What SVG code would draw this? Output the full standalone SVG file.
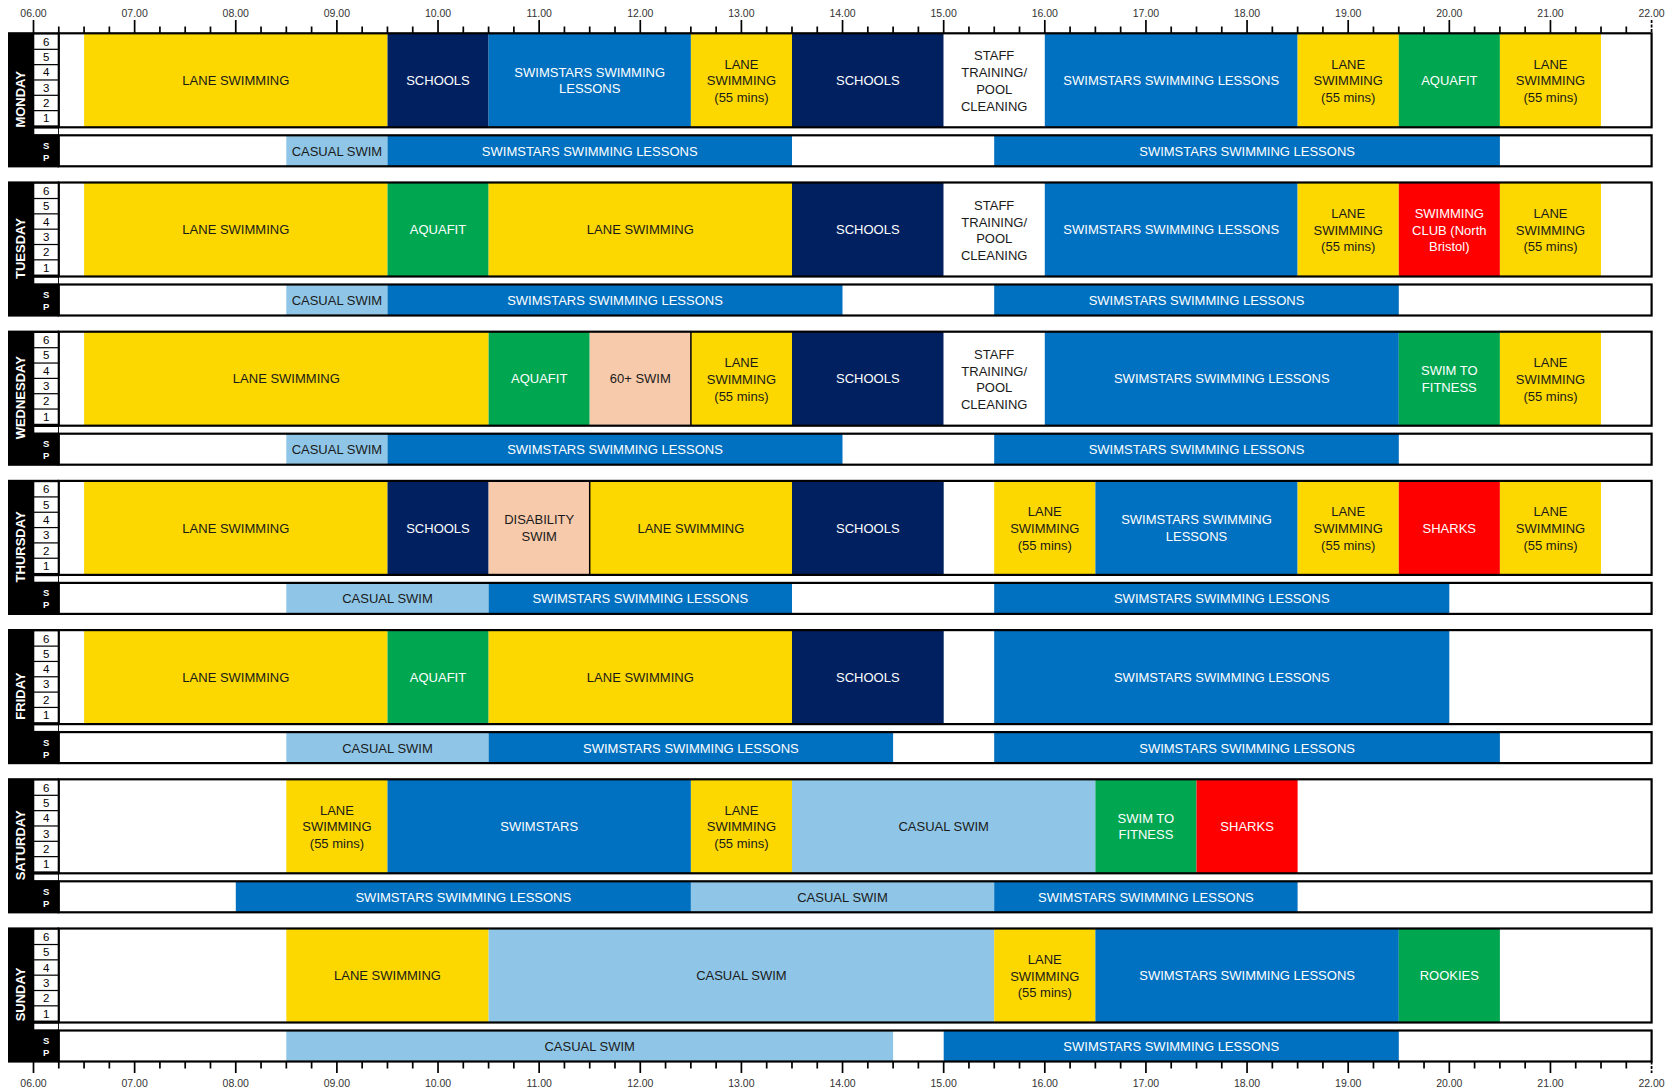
<svg xmlns="http://www.w3.org/2000/svg" width="1673" height="1089" viewBox="0 0 1673 1089">
<defs>
<style>
.y{fill:#FCD800}.n{fill:#012060}.b{fill:#0070C0}.lb{fill:#8FC6E7}.g{fill:#00A650}.r{fill:#FE0000}.p{fill:#F7CAAC}.w{fill:#fff}
.box{fill:none;stroke:#000;stroke-width:2.2}
.bg{fill:#fff}
.col{fill:#000}
.cell{fill:#fff}
.sep{stroke:#000;stroke-width:1.5}
text{font-family:"Liberation Sans",Arial,sans-serif}
.t{font-size:13px;text-anchor:middle}
.dk{fill:#1a1a1a}.lt{fill:#fff}
.num{font-size:11.5px;text-anchor:middle;fill:#000}
.sp{font-size:9.5px;font-weight:bold;text-anchor:middle;fill:#fff}
.day{font-size:13px;font-weight:bold;text-anchor:middle;fill:#fff}
.ax{font-size:10.5px;text-anchor:middle;fill:#333}
.tick{stroke:#000;stroke-width:1.7;fill:none}
</style>
<g id="laneCol">
<rect class="col" x="8" y="-1.1" width="51" height="135.2"/>
<rect class="cell" x="34.3" y="1.3" width="23.8" height="14.1"/>
<rect class="cell" x="34.3" y="16.63" width="23.8" height="14.1"/>
<rect class="cell" x="34.3" y="31.96" width="23.8" height="14.1"/>
<rect class="cell" x="34.3" y="47.29" width="23.8" height="14.1"/>
<rect class="cell" x="34.3" y="62.62" width="23.8" height="14.1"/>
<rect class="cell" x="34.3" y="77.95" width="23.8" height="14.1"/>
<text class="num" x="46.2" y="12.5">6</text>
<text class="num" x="46.2" y="27.8">5</text>
<text class="num" x="46.2" y="43.1">4</text>
<text class="num" x="46.2" y="58.4">3</text>
<text class="num" x="46.2" y="73.8">2</text>
<text class="num" x="46.2" y="89.1">1</text>
<rect class="cell" x="34.3" y="95.3" width="23.8" height="5.5"/>
<text class="sp" x="46.2" y="115.5">S</text>
<text class="sp" x="46.2" y="127.5">P</text>
<rect class="bg" x="58.8" y="0" width="1592.8" height="94"/>
<rect class="bg" x="58.8" y="102" width="1592.8" height="31"/>
</g>
<rect id="mainBox" class="box" x="58.8" y="0" width="1592.8" height="94"/>
<rect id="spBox" class="box" x="58.8" y="102" width="1592.8" height="31"/>
</defs>

<g id="axis-top">
<path class="tick" d="M33.5 20V33M134.63 20V33M235.76 20V33M336.89 20V33M438.02 20V33M539.15 20V33M640.28 20V33M741.41 20V33M842.54 20V33M943.67 20V33M1044.8 20V33M1145.93 20V33M1247.06 20V33M1348.19 20V33M1449.32 20V33M1550.45 20V33"/>
<path class="tick" d="M1651.58 20V33" stroke-dasharray="3 1.5"/>
<path class="tick" d="M58.78 26.5V33M84.07 26.5V33M109.35 26.5V33M159.91 26.5V33M185.2 26.5V33M210.48 26.5V33M261.04 26.5V33M286.33 26.5V33M311.61 26.5V33M362.17 26.5V33M387.46 26.5V33M412.74 26.5V33M463.3 26.5V33M488.59 26.5V33M513.87 26.5V33M564.43 26.5V33M589.72 26.5V33M615 26.5V33M665.56 26.5V33M690.85 26.5V33M716.13 26.5V33M766.69 26.5V33M791.98 26.5V33M817.26 26.5V33M867.82 26.5V33M893.11 26.5V33M918.39 26.5V33M968.95 26.5V33M994.24 26.5V33M1019.52 26.5V33M1070.08 26.5V33M1095.37 26.5V33M1120.65 26.5V33M1171.21 26.5V33M1196.5 26.5V33M1221.78 26.5V33M1272.34 26.5V33M1297.63 26.5V33M1322.91 26.5V33M1373.47 26.5V33M1398.76 26.5V33M1424.04 26.5V33M1474.6 26.5V33M1499.89 26.5V33M1525.17 26.5V33M1575.73 26.5V33M1601.02 26.5V33M1626.3 26.5V33"/>
<text class="ax" x="33.5" y="17">06.00</text><text class="ax" x="134.63" y="17">07.00</text><text class="ax" x="235.76" y="17">08.00</text><text class="ax" x="336.89" y="17">09.00</text><text class="ax" x="438.02" y="17">10.00</text><text class="ax" x="539.15" y="17">11.00</text><text class="ax" x="640.28" y="17">12.00</text><text class="ax" x="741.41" y="17">13.00</text><text class="ax" x="842.54" y="17">14.00</text><text class="ax" x="943.67" y="17">15.00</text><text class="ax" x="1044.8" y="17">16.00</text><text class="ax" x="1145.93" y="17">17.00</text><text class="ax" x="1247.06" y="17">18.00</text><text class="ax" x="1348.19" y="17">19.00</text><text class="ax" x="1449.32" y="17">20.00</text><text class="ax" x="1550.45" y="17">21.00</text><text class="ax" x="1651.58" y="17">22.00</text>
</g>

<g id="axis-bottom">
<path class="tick" d="M33.5 1061.5V1073M134.63 1061.5V1073M235.76 1061.5V1073M336.89 1061.5V1073M438.02 1061.5V1073M539.15 1061.5V1073M640.28 1061.5V1073M741.41 1061.5V1073M842.54 1061.5V1073M943.67 1061.5V1073M1044.8 1061.5V1073M1145.93 1061.5V1073M1247.06 1061.5V1073M1348.19 1061.5V1073M1449.32 1061.5V1073M1550.45 1061.5V1073"/>
<path class="tick" d="M1651.58 1061.5V1073" stroke-dasharray="3 1.5"/>
<path class="tick" d="M58.78 1061.5V1068.5M84.07 1061.5V1068.5M109.35 1061.5V1068.5M159.91 1061.5V1068.5M185.2 1061.5V1068.5M210.48 1061.5V1068.5M261.04 1061.5V1068.5M286.33 1061.5V1068.5M311.61 1061.5V1068.5M362.17 1061.5V1068.5M387.46 1061.5V1068.5M412.74 1061.5V1068.5M463.3 1061.5V1068.5M488.59 1061.5V1068.5M513.87 1061.5V1068.5M564.43 1061.5V1068.5M589.72 1061.5V1068.5M615 1061.5V1068.5M665.56 1061.5V1068.5M690.85 1061.5V1068.5M716.13 1061.5V1068.5M766.69 1061.5V1068.5M791.98 1061.5V1068.5M817.26 1061.5V1068.5M867.82 1061.5V1068.5M893.11 1061.5V1068.5M918.39 1061.5V1068.5M968.95 1061.5V1068.5M994.24 1061.5V1068.5M1019.52 1061.5V1068.5M1070.08 1061.5V1068.5M1095.37 1061.5V1068.5M1120.65 1061.5V1068.5M1171.21 1061.5V1068.5M1196.5 1061.5V1068.5M1221.78 1061.5V1068.5M1272.34 1061.5V1068.5M1297.63 1061.5V1068.5M1322.91 1061.5V1068.5M1373.47 1061.5V1068.5M1398.76 1061.5V1068.5M1424.04 1061.5V1068.5M1474.6 1061.5V1068.5M1499.89 1061.5V1068.5M1525.17 1061.5V1068.5M1575.73 1061.5V1068.5M1601.02 1061.5V1068.5M1626.3 1061.5V1068.5"/>
<text class="ax" x="33.5" y="1087">06.00</text><text class="ax" x="134.63" y="1087">07.00</text><text class="ax" x="235.76" y="1087">08.00</text><text class="ax" x="336.89" y="1087">09.00</text><text class="ax" x="438.02" y="1087">10.00</text><text class="ax" x="539.15" y="1087">11.00</text><text class="ax" x="640.28" y="1087">12.00</text><text class="ax" x="741.41" y="1087">13.00</text><text class="ax" x="842.54" y="1087">14.00</text><text class="ax" x="943.67" y="1087">15.00</text><text class="ax" x="1044.8" y="1087">16.00</text><text class="ax" x="1145.93" y="1087">17.00</text><text class="ax" x="1247.06" y="1087">18.00</text><text class="ax" x="1348.19" y="1087">19.00</text><text class="ax" x="1449.32" y="1087">20.00</text><text class="ax" x="1550.45" y="1087">21.00</text><text class="ax" x="1651.58" y="1087">22.00</text>
</g>

<!-- MONDAY -->
<g id="day-monday" transform="translate(0,33.3)">
<use href="#laneCol"/>
<text class="day" transform="translate(25.2,66) rotate(-90)">MONDAY</text>
<g id="mon-1"><rect class="y" x="84.1" y="0" width="303.4" height="94"/><text class="t dk" x="235.8" y="51.8">LANE SWIMMING</text></g>
<g id="mon-2"><rect class="n" x="387.5" y="0" width="101.1" height="94"/><text class="t lt" x="438" y="51.8">SCHOOLS</text></g>
<g id="mon-3"><rect class="b" x="488.6" y="0" width="202.3" height="94"/><text class="t lt" x="589.7" y="43.5">SWIMSTARS SWIMMING</text><text class="t lt" x="589.7" y="60.2">LESSONS</text></g>
<g id="mon-4"><rect class="y" x="690.9" y="0" width="101.1" height="94"/><text class="t dk" x="741.4" y="35.5">LANE</text><text class="t dk" x="741.4" y="52.2">SWIMMING</text><text class="t dk" x="741.4" y="68.9">(55 mins)</text></g>
<g id="mon-5"><rect class="n" x="792" y="0" width="151.7" height="94"/><text class="t lt" x="867.8" y="51.8">SCHOOLS</text></g>
<g id="mon-6"><rect class="w" x="943.7" y="0" width="101.1" height="94"/><text class="t dk" x="994.2" y="27.2">STAFF</text><text class="t dk" x="994.2" y="44">TRAINING/</text><text class="t dk" x="994.2" y="60.8">POOL</text><text class="t dk" x="994.2" y="77.6">CLEANING</text></g>
<g id="mon-7"><rect class="b" x="1044.8" y="0" width="252.8" height="94"/><text class="t lt" x="1171.2" y="51.8">SWIMSTARS SWIMMING LESSONS</text></g>
<g id="mon-8"><rect class="y" x="1297.6" y="0" width="101.2" height="94"/><text class="t dk" x="1348.2" y="35.5">LANE</text><text class="t dk" x="1348.2" y="52.2">SWIMMING</text><text class="t dk" x="1348.2" y="68.9">(55 mins)</text></g>
<g id="mon-9"><rect class="g" x="1398.8" y="0" width="101.1" height="94"/><text class="t lt" x="1449.3" y="51.8">AQUAFIT</text></g>
<g id="mon-10"><rect class="y" x="1499.9" y="0" width="101.1" height="94"/><text class="t dk" x="1550.5" y="35.5">LANE</text><text class="t dk" x="1550.5" y="52.2">SWIMMING</text><text class="t dk" x="1550.5" y="68.9">(55 mins)</text></g>
<g id="mon-sp1"><rect class="lb" x="286.3" y="102" width="101.2" height="31"/><text class="t dk" x="336.9" y="122.6">CASUAL SWIM</text></g>
<g id="mon-sp2"><rect class="b" x="387.5" y="102" width="404.5" height="31"/><text class="t lt" x="589.7" y="122.6">SWIMSTARS SWIMMING LESSONS</text></g>
<g id="mon-sp3"><rect class="b" x="994.2" y="102" width="505.7" height="31"/><text class="t lt" x="1247.1" y="122.6">SWIMSTARS SWIMMING LESSONS</text></g>
<use href="#mainBox"/><use href="#spBox"/>
</g>

<!-- TUESDAY -->
<g id="day-tuesday" transform="translate(0,182.5)">
<use href="#laneCol"/>
<text class="day" transform="translate(25.2,66) rotate(-90)">TUESDAY</text>
<g id="tue-1"><rect class="y" x="84.1" y="0" width="303.4" height="94"/><text class="t dk" x="235.8" y="51.8">LANE SWIMMING</text></g>
<g id="tue-2"><rect class="g" x="387.5" y="0" width="101.1" height="94"/><text class="t lt" x="438" y="51.8">AQUAFIT</text></g>
<g id="tue-3"><rect class="y" x="488.6" y="0" width="303.4" height="94"/><text class="t dk" x="640.3" y="51.8">LANE SWIMMING</text></g>
<g id="tue-4"><rect class="n" x="792" y="0" width="151.7" height="94"/><text class="t lt" x="867.8" y="51.8">SCHOOLS</text></g>
<g id="tue-5"><rect class="w" x="943.7" y="0" width="101.1" height="94"/><text class="t dk" x="994.2" y="27.2">STAFF</text><text class="t dk" x="994.2" y="44">TRAINING/</text><text class="t dk" x="994.2" y="60.8">POOL</text><text class="t dk" x="994.2" y="77.6">CLEANING</text></g>
<g id="tue-6"><rect class="b" x="1044.8" y="0" width="252.8" height="94"/><text class="t lt" x="1171.2" y="51.8">SWIMSTARS SWIMMING LESSONS</text></g>
<g id="tue-7"><rect class="y" x="1297.6" y="0" width="101.2" height="94"/><text class="t dk" x="1348.2" y="35.5">LANE</text><text class="t dk" x="1348.2" y="52.2">SWIMMING</text><text class="t dk" x="1348.2" y="68.9">(55 mins)</text></g>
<g id="tue-8"><rect class="r" x="1398.8" y="0" width="101.1" height="94"/><text class="t lt" x="1449.3" y="35.5">SWIMMING</text><text class="t lt" x="1449.3" y="52.2">CLUB (North</text><text class="t lt" x="1449.3" y="68.9">Bristol)</text></g>
<g id="tue-9"><rect class="y" x="1499.9" y="0" width="101.1" height="94"/><text class="t dk" x="1550.5" y="35.5">LANE</text><text class="t dk" x="1550.5" y="52.2">SWIMMING</text><text class="t dk" x="1550.5" y="68.9">(55 mins)</text></g>
<g id="tue-sp1"><rect class="lb" x="286.3" y="102" width="101.2" height="31"/><text class="t dk" x="336.9" y="122.6">CASUAL SWIM</text></g>
<g id="tue-sp2"><rect class="b" x="387.5" y="102" width="455" height="31"/><text class="t lt" x="615" y="122.6">SWIMSTARS SWIMMING LESSONS</text></g>
<g id="tue-sp3"><rect class="b" x="994.2" y="102" width="404.6" height="31"/><text class="t lt" x="1196.5" y="122.6">SWIMSTARS SWIMMING LESSONS</text></g>
<use href="#mainBox"/><use href="#spBox"/>
</g>

<!-- WEDNESDAY -->
<g id="day-wednesday" transform="translate(0,331.7)">
<use href="#laneCol"/>
<text class="day" transform="translate(25.2,66) rotate(-90)">WEDNESDAY</text>
<g id="wed-1"><rect class="y" x="84.1" y="0" width="404.5" height="94"/><text class="t dk" x="286.3" y="51.8">LANE SWIMMING</text></g>
<g id="wed-2"><rect class="g" x="488.6" y="0" width="101.1" height="94"/><text class="t lt" x="539.2" y="51.8">AQUAFIT</text></g>
<g id="wed-3"><rect class="p" x="589.7" y="0" width="101.2" height="94"/><text class="t dk" x="640.3" y="51.8">60+ SWIM</text></g>
<g id="wed-4"><rect class="y" x="690.9" y="0" width="101.1" height="94"/><text class="t dk" x="741.4" y="35.5">LANE</text><text class="t dk" x="741.4" y="52.2">SWIMMING</text><text class="t dk" x="741.4" y="68.9">(55 mins)</text></g>
<line class="sep" x1="690.9" y1="0" x2="690.9" y2="94"/>
<g id="wed-5"><rect class="n" x="792" y="0" width="151.7" height="94"/><text class="t lt" x="867.8" y="51.8">SCHOOLS</text></g>
<g id="wed-6"><rect class="w" x="943.7" y="0" width="101.1" height="94"/><text class="t dk" x="994.2" y="27.2">STAFF</text><text class="t dk" x="994.2" y="44">TRAINING/</text><text class="t dk" x="994.2" y="60.8">POOL</text><text class="t dk" x="994.2" y="77.6">CLEANING</text></g>
<g id="wed-7"><rect class="b" x="1044.8" y="0" width="354" height="94"/><text class="t lt" x="1221.8" y="51.8">SWIMSTARS SWIMMING LESSONS</text></g>
<g id="wed-8"><rect class="g" x="1398.8" y="0" width="101.1" height="94"/><text class="t lt" x="1449.3" y="43.5">SWIM TO</text><text class="t lt" x="1449.3" y="60.2">FITNESS</text></g>
<g id="wed-9"><rect class="y" x="1499.9" y="0" width="101.1" height="94"/><text class="t dk" x="1550.5" y="35.5">LANE</text><text class="t dk" x="1550.5" y="52.2">SWIMMING</text><text class="t dk" x="1550.5" y="68.9">(55 mins)</text></g>
<g id="wed-sp1"><rect class="lb" x="286.3" y="102" width="101.2" height="31"/><text class="t dk" x="336.9" y="122.6">CASUAL SWIM</text></g>
<g id="wed-sp2"><rect class="b" x="387.5" y="102" width="455" height="31"/><text class="t lt" x="615" y="122.6">SWIMSTARS SWIMMING LESSONS</text></g>
<g id="wed-sp3"><rect class="b" x="994.2" y="102" width="404.6" height="31"/><text class="t lt" x="1196.5" y="122.6">SWIMSTARS SWIMMING LESSONS</text></g>
<use href="#mainBox"/><use href="#spBox"/>
</g>

<!-- THURSDAY -->
<g id="day-thursday" transform="translate(0,480.9)">
<use href="#laneCol"/>
<text class="day" transform="translate(25.2,66) rotate(-90)">THURSDAY</text>
<g id="thu-1"><rect class="y" x="84.1" y="0" width="303.4" height="94"/><text class="t dk" x="235.8" y="51.8">LANE SWIMMING</text></g>
<g id="thu-2"><rect class="n" x="387.5" y="0" width="101.1" height="94"/><text class="t lt" x="438" y="51.8">SCHOOLS</text></g>
<g id="thu-3"><rect class="p" x="488.6" y="0" width="101.1" height="94"/><text class="t dk" x="539.2" y="43.5">DISABILITY</text><text class="t dk" x="539.2" y="60.2">SWIM</text></g>
<g id="thu-4"><rect class="y" x="589.7" y="0" width="202.3" height="94"/><text class="t dk" x="690.9" y="51.8">LANE SWIMMING</text></g>
<line class="sep" x1="589.7" y1="0" x2="589.7" y2="94"/>
<g id="thu-5"><rect class="n" x="792" y="0" width="151.7" height="94"/><text class="t lt" x="867.8" y="51.8">SCHOOLS</text></g>
<g id="thu-6"><rect class="y" x="994.2" y="0" width="101.2" height="94"/><text class="t dk" x="1044.8" y="35.5">LANE</text><text class="t dk" x="1044.8" y="52.2">SWIMMING</text><text class="t dk" x="1044.8" y="68.9">(55 mins)</text></g>
<g id="thu-7"><rect class="b" x="1095.4" y="0" width="202.2" height="94"/><text class="t lt" x="1196.5" y="43.5">SWIMSTARS SWIMMING</text><text class="t lt" x="1196.5" y="60.2">LESSONS</text></g>
<g id="thu-8"><rect class="y" x="1297.6" y="0" width="101.2" height="94"/><text class="t dk" x="1348.2" y="35.5">LANE</text><text class="t dk" x="1348.2" y="52.2">SWIMMING</text><text class="t dk" x="1348.2" y="68.9">(55 mins)</text></g>
<g id="thu-9"><rect class="r" x="1398.8" y="0" width="101.1" height="94"/><text class="t lt" x="1449.3" y="51.8">SHARKS</text></g>
<g id="thu-10"><rect class="y" x="1499.9" y="0" width="101.1" height="94"/><text class="t dk" x="1550.5" y="35.5">LANE</text><text class="t dk" x="1550.5" y="52.2">SWIMMING</text><text class="t dk" x="1550.5" y="68.9">(55 mins)</text></g>
<g id="thu-sp1"><rect class="lb" x="286.3" y="102" width="202.3" height="31"/><text class="t dk" x="387.5" y="122.6">CASUAL SWIM</text></g>
<g id="thu-sp2"><rect class="b" x="488.6" y="102" width="303.4" height="31"/><text class="t lt" x="640.3" y="122.6">SWIMSTARS SWIMMING LESSONS</text></g>
<g id="thu-sp3"><rect class="b" x="994.2" y="102" width="455.1" height="31"/><text class="t lt" x="1221.8" y="122.6">SWIMSTARS SWIMMING LESSONS</text></g>
<use href="#mainBox"/><use href="#spBox"/>
</g>

<!-- FRIDAY -->
<g id="day-friday" transform="translate(0,630.1)">
<use href="#laneCol"/>
<text class="day" transform="translate(25.2,66) rotate(-90)">FRIDAY</text>
<g id="fri-1"><rect class="y" x="84.1" y="0" width="303.4" height="94"/><text class="t dk" x="235.8" y="51.8">LANE SWIMMING</text></g>
<g id="fri-2"><rect class="g" x="387.5" y="0" width="101.1" height="94"/><text class="t lt" x="438" y="51.8">AQUAFIT</text></g>
<g id="fri-3"><rect class="y" x="488.6" y="0" width="303.4" height="94"/><text class="t dk" x="640.3" y="51.8">LANE SWIMMING</text></g>
<g id="fri-4"><rect class="n" x="792" y="0" width="151.7" height="94"/><text class="t lt" x="867.8" y="51.8">SCHOOLS</text></g>
<g id="fri-5"><rect class="b" x="994.2" y="0" width="455.1" height="94"/><text class="t lt" x="1221.8" y="51.8">SWIMSTARS SWIMMING LESSONS</text></g>
<g id="fri-sp1"><rect class="lb" x="286.3" y="102" width="202.3" height="31"/><text class="t dk" x="387.5" y="122.6">CASUAL SWIM</text></g>
<g id="fri-sp2"><rect class="b" x="488.6" y="102" width="404.5" height="31"/><text class="t lt" x="690.9" y="122.6">SWIMSTARS SWIMMING LESSONS</text></g>
<g id="fri-sp3"><rect class="b" x="994.2" y="102" width="505.7" height="31"/><text class="t lt" x="1247.1" y="122.6">SWIMSTARS SWIMMING LESSONS</text></g>
<use href="#mainBox"/><use href="#spBox"/>
</g>

<!-- SATURDAY -->
<g id="day-saturday" transform="translate(0,779.3)">
<use href="#laneCol"/>
<text class="day" transform="translate(25.2,66) rotate(-90)">SATURDAY</text>
<g id="sat-1"><rect class="y" x="286.3" y="0" width="101.2" height="94"/><text class="t dk" x="336.9" y="35.5">LANE</text><text class="t dk" x="336.9" y="52.2">SWIMMING</text><text class="t dk" x="336.9" y="68.9">(55 mins)</text></g>
<g id="sat-2"><rect class="b" x="387.5" y="0" width="303.4" height="94"/><text class="t lt" x="539.2" y="51.8">SWIMSTARS</text></g>
<g id="sat-3"><rect class="y" x="690.9" y="0" width="101.1" height="94"/><text class="t dk" x="741.4" y="35.5">LANE</text><text class="t dk" x="741.4" y="52.2">SWIMMING</text><text class="t dk" x="741.4" y="68.9">(55 mins)</text></g>
<g id="sat-4"><rect class="lb" x="792" y="0" width="303.4" height="94"/><text class="t dk" x="943.7" y="51.8">CASUAL SWIM</text></g>
<g id="sat-5"><rect class="g" x="1095.4" y="0" width="101.1" height="94"/><text class="t lt" x="1145.9" y="43.5">SWIM TO</text><text class="t lt" x="1145.9" y="60.2">FITNESS</text></g>
<g id="sat-6"><rect class="r" x="1196.5" y="0" width="101.1" height="94"/><text class="t lt" x="1247.1" y="51.8">SHARKS</text></g>
<g id="sat-sp1"><rect class="b" x="235.8" y="102" width="455.1" height="31"/><text class="t lt" x="463.3" y="122.6">SWIMSTARS SWIMMING LESSONS</text></g>
<g id="sat-sp2"><rect class="lb" x="690.9" y="102" width="303.3" height="31"/><text class="t dk" x="842.5" y="122.6">CASUAL SWIM</text></g>
<g id="sat-sp3"><rect class="b" x="994.2" y="102" width="303.4" height="31"/><text class="t lt" x="1145.9" y="122.6">SWIMSTARS SWIMMING LESSONS</text></g>
<use href="#mainBox"/><use href="#spBox"/>
</g>

<!-- SUNDAY -->
<g id="day-sunday" transform="translate(0,928.5)">
<use href="#laneCol"/>
<text class="day" transform="translate(25.2,66) rotate(-90)">SUNDAY</text>
<g id="sun-1"><rect class="y" x="286.3" y="0" width="202.3" height="94"/><text class="t dk" x="387.5" y="51.8">LANE SWIMMING</text></g>
<g id="sun-2"><rect class="lb" x="488.6" y="0" width="505.6" height="94"/><text class="t dk" x="741.4" y="51.8">CASUAL SWIM</text></g>
<g id="sun-3"><rect class="y" x="994.2" y="0" width="101.2" height="94"/><text class="t dk" x="1044.8" y="35.5">LANE</text><text class="t dk" x="1044.8" y="52.2">SWIMMING</text><text class="t dk" x="1044.8" y="68.9">(55 mins)</text></g>
<g id="sun-4"><rect class="b" x="1095.4" y="0" width="303.4" height="94"/><text class="t lt" x="1247.1" y="51.8">SWIMSTARS SWIMMING LESSONS</text></g>
<g id="sun-5"><rect class="g" x="1398.8" y="0" width="101.1" height="94"/><text class="t lt" x="1449.3" y="51.8">ROOKIES</text></g>
<g id="sun-sp1"><rect class="lb" x="286.3" y="102" width="606.8" height="31"/><text class="t dk" x="589.7" y="122.6">CASUAL SWIM</text></g>
<g id="sun-sp2"><rect class="b" x="943.7" y="102" width="455.1" height="31"/><text class="t lt" x="1171.2" y="122.6">SWIMSTARS SWIMMING LESSONS</text></g>
<use href="#mainBox"/><use href="#spBox"/>
</g>

<g id="connectors"/>
</svg>
